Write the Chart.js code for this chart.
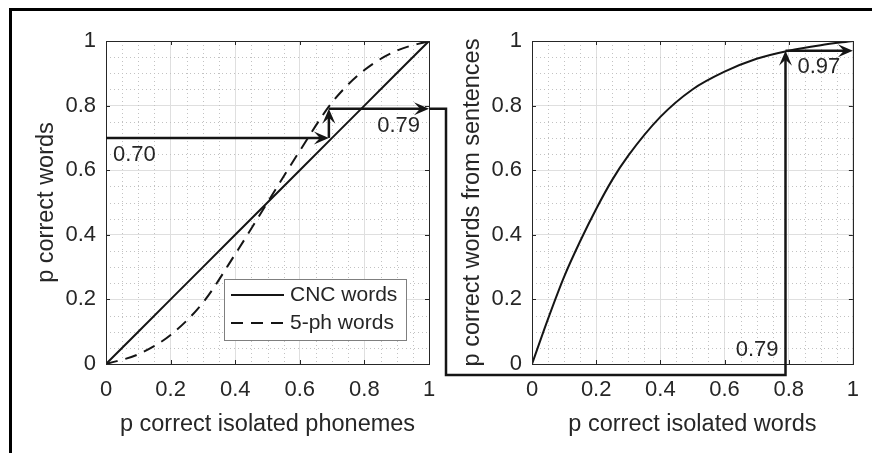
<!DOCTYPE html>
<html lang="en">
<head>
    <meta charset="UTF-8">
    <title>Fonemas, palavras e frases</title>
    <script src="https://cdn.jsdelivr.net/npm/chart.js"></script>
    <style>
        body { margin: 0; background: #fff; width: 872px; height: 453px; overflow: hidden; position: relative; }
        .moldura { position: absolute; left: 9px; top: 8px; width: 900px; height: 500px;
                   border-left: 3px solid #000; border-top: 3px solid #000; }
        canvas { position: absolute; left: 0; top: 0; }
    </style>
</head>
<body>
    <div class="moldura"></div>
    <canvas id="grafico1" width="872" height="453"></canvas>
    <canvas id="grafico2" width="872" height="453"></canvas>

    <script>
        // dados
        const phonemeP  = [0, 0.1, 0.2, 0.3, 0.4, 0.5, 0.6, 0.7, 0.8, 0.9, 1]
        const cncWords  = [0, 0.1, 0.2, 0.3, 0.4, 0.5, 0.6, 0.7, 0.8, 0.9, 1]
        const ph5Words  = [0, 0.03, 0.09, 0.19, 0.34, 0.5, 0.66, 0.81, 0.91, 0.97, 1]
        const wordP     = [0, 0.05, 0.1, 0.15, 0.2, 0.25, 0.3, 0.4, 0.5, 0.6, 0.7, 0.8, 0.9, 1]
        const sentWords = [0, 0.14, 0.27, 0.38, 0.48, 0.57, 0.645, 0.765, 0.85, 0.905, 0.945, 0.97, 0.987, 1]
        const tickVals  = [0, 0.2, 0.4, 0.6, 0.8, 1]
        const seriesNames = ['CNC words', '5-ph words']
        // exemplo das setas
        const exWords = 0.70
        const exPhon  = 0.69
        const ex5ph   = 0.79
        const exSent  = 0.97

        const fonte = '"Liberation Sans", Arial, Helvetica, sans-serif'
        const tinta = '#262626'
        const preto = '#151515'

        const pares = (xs, ys) => xs.map((v, i) => ({x: v, y: ys[i]}))

        const eixos = (tituloX, tituloY) => ({
          x: {
            type: 'linear', min: 0, max: 1,
            afterBuildTicks: s => { s.ticks = tickVals.map(v => ({value: v})) },
            afterFit: s => { s.height = 89 },
            ticks: { color: tinta, padding: 13, maxRotation: 0, autoSkip: false,
                     font: {family: fonte, size: 22}, callback: v => String(v) },
            grid: { color: '#dfdfdf', drawTicks: false },
            border: { color: tinta, width: 1 },
            title: { display: true, text: tituloX, color: tinta,
                     font: {family: fonte, size: 23.5}, padding: {top: 0, bottom: 14} }
          },
          y: {
            type: 'linear', min: 0, max: 1,
            afterBuildTicks: s => { s.ticks = tickVals.map(v => ({value: v})) },
            afterFit: s => { s.width = 94 },
            ticks: { color: tinta, padding: 10, autoSkip: false,
                     font: {family: fonte, size: 22}, callback: v => String(v) },
            grid: { color: '#dfdfdf', drawTicks: false },
            border: { color: tinta, width: 1 },
            title: { display: true, text: tituloY, color: tinta,
                     font: {family: fonte, size: 23.5}, padding: {top: 20, bottom: 0} }
          }
        })

        // grade menor pontilhada, caixa e marcas para dentro
        const moldura = {
          id: 'moldura',
          beforeDatasetsDraw(chart) {
            const {ctx, chartArea: a, scales: {x, y}} = chart
            ctx.save()
            ctx.strokeStyle = '#c2c2c2'
            ctx.lineWidth = 1
            ctx.setLineDash([1, 3])
            for (let i = 1; i < 20; i++) {
              if (i % 4 === 0) continue
              const px = Math.round(x.getPixelForValue(i / 20)) + 0.5
              const py = Math.round(y.getPixelForValue(i / 20)) + 0.5
              ctx.beginPath(); ctx.moveTo(px, a.top); ctx.lineTo(px, a.bottom); ctx.stroke()
              ctx.beginPath(); ctx.moveTo(a.left, py); ctx.lineTo(a.right, py); ctx.stroke()
            }
            ctx.restore()
          },
          afterDatasetsDraw(chart) {
            const {ctx, chartArea: a, scales: {x, y}} = chart
            ctx.save()
            ctx.strokeStyle = tinta
            ctx.lineWidth = 1
            ctx.strokeRect(Math.round(a.left) + 0.5, Math.round(a.top) + 0.5,
                           Math.round(a.right - a.left), Math.round(a.bottom - a.top))
            ctx.beginPath()
            tickVals.forEach(v => {
              const px = Math.round(x.getPixelForValue(v)) + 0.5
              const py = Math.round(y.getPixelForValue(v)) + 0.5
              ctx.moveTo(px, a.bottom); ctx.lineTo(px, a.bottom - 4)
              ctx.moveTo(px, a.top); ctx.lineTo(px, a.top + 4)
              ctx.moveTo(a.left, py); ctx.lineTo(a.left + 4, py)
              ctx.moveTo(a.right, py); ctx.lineTo(a.right - 4, py)
            })
            ctx.stroke()
            ctx.restore()
          }
        }

        const ponta = (ctx, x, y, ang) => {
          ctx.save()
          ctx.translate(x, y)
          ctx.rotate(ang)
          ctx.beginPath()
          ctx.moveTo(0, 0)
          ctx.lineTo(-15, -6.5)
          ctx.lineTo(-9, 0)
          ctx.lineTo(-15, 6.5)
          ctx.closePath()
          ctx.fill()
          ctx.restore()
        }

        const linha = (ctx, pts) => {
          ctx.beginPath()
          ctx.moveTo(pts[0][0], pts[0][1])
          pts.slice(1).forEach(p => ctx.lineTo(p[0], p[1]))
          ctx.stroke()
        }

        const estiloSeta = ctx => {
          ctx.strokeStyle = preto
          ctx.fillStyle = preto
          ctx.lineWidth = 2.5
          ctx.lineJoin = 'miter'
          ctx.setLineDash([])
          ctx.font = '22px ' + fonte
          ctx.textBaseline = 'middle'
        }

        const setasEsq = {
          id: 'setasEsq',
          afterDraw(chart) {
            const {ctx, chartArea: a, scales: {x, y}} = chart
            const x0 = x.getPixelForValue(0), xp = x.getPixelForValue(exPhon), x1 = x.getPixelForValue(1)
            const yw = y.getPixelForValue(exWords), y5 = y.getPixelForValue(ex5ph)
            ctx.save()
            estiloSeta(ctx)
            linha(ctx, [[x0, yw], [xp - 4, yw]]); ponta(ctx, xp, yw, 0)
            linha(ctx, [[xp, yw], [xp, y5 + 4]]); ponta(ctx, xp, y5, -Math.PI / 2)
            linha(ctx, [[xp, y5], [x1 - 4, y5]]); ponta(ctx, x1, y5, 0)
            ctx.fillStyle = tinta
            ctx.textAlign = 'left'
            ctx.fillText(exWords.toFixed(2), x0 + 7, yw + 17)
            ctx.textAlign = 'right'
            ctx.fillText(ex5ph.toFixed(2), x1 - 9, y5 + 17)

            // legenda
            const lw = 182, lh = 61
            const lx = a.right - 23 - lw, ly = a.bottom - 24 - lh
            ctx.fillStyle = '#fff'
            ctx.fillRect(lx, ly, lw, lh)
            ctx.strokeStyle = '#7f7f7f'
            ctx.lineWidth = 1
            ctx.strokeRect(Math.round(lx) + 0.5, Math.round(ly) + 0.5, lw, lh)
            ctx.font = '21px ' + fonte
            ctx.textAlign = 'left'
            chart.data.datasets.forEach((ds, i) => {
              const ry = ly + 16 + i * 28
              ctx.strokeStyle = ds.borderColor
              ctx.lineWidth = ds.borderWidth
              ctx.setLineDash(ds.borderDash || [])
              linha(ctx, [[lx + 7, ry], [lx + 60, ry]])
              ctx.fillStyle = tinta
              ctx.fillText(ds.label, lx + 66, ry)
            })
            ctx.restore()
          }
        }

        const grafico1 = new Chart(document.getElementById('grafico1'), {
          type: 'scatter',
          data: {
            datasets: [{
              label: seriesNames[0],
              data: pares(phonemeP, cncWords),
              showLine: true, borderColor: preto, borderWidth: 2, pointRadius: 0
            }, {
              label: seriesNames[1],
              data: pares(phonemeP, ph5Words),
              showLine: true, borderColor: preto, borderWidth: 2, pointRadius: 0,
              borderDash: [12, 8], cubicInterpolationMode: 'monotone'
            }]
          },
          options: {
            responsive: false, animation: false,
            layout: { padding: {left: 12, top: 41, right: 443, bottom: 0} },
            plugins: { legend: {display: false}, tooltip: {enabled: false} },
            scales: eixos('p correct isolated phonemes', 'p correct words')
          },
          plugins: [moldura, setasEsq]
        })

        // ligacao entre os paineis e setas do painel direito
        const setasDir = {
          id: 'setasDir',
          afterDraw(chart) {
            const {ctx, chartArea: a, scales: {x, y}} = chart
            const xa = grafico1.scales.x, ya = grafico1.scales.y
            const sx = xa.getPixelForValue(1), sy = ya.getPixelForValue(ex5ph)
            const cotoX = grafico1.chartArea.right + 17
            const baixoY = a.bottom + 11
            const xv = x.getPixelForValue(ex5ph), ys = y.getPixelForValue(exSent), x1 = x.getPixelForValue(1)
            ctx.save()
            estiloSeta(ctx)
            linha(ctx, [[sx, sy], [cotoX, sy], [cotoX, baixoY], [xv, baixoY], [xv, ys + 4]])
            ponta(ctx, xv, ys, -Math.PI / 2)
            linha(ctx, [[xv, ys], [x1 - 4, ys]]); ponta(ctx, x1, ys, 0)
            ctx.fillStyle = tinta
            ctx.textAlign = 'right'
            ctx.fillText(ex5ph.toFixed(2), xv - 7, a.bottom - 14)
            ctx.textAlign = 'left'
            ctx.fillText(exSent.toFixed(2), xv + 12, ys + 16)
            ctx.restore()
          }
        }

        const grafico2 = new Chart(document.getElementById('grafico2'), {
          type: 'scatter',
          data: {
            datasets: [{
              label: 'sentences',
              data: pares(wordP, sentWords),
              showLine: true, borderColor: preto, borderWidth: 2, pointRadius: 0,
              cubicInterpolationMode: 'monotone'
            }]
          },
          options: {
            responsive: false, animation: false,
            layout: { padding: {left: 438, top: 41, right: 16, bottom: 0} },
            plugins: { legend: {display: false}, tooltip: {enabled: false} },
            scales: eixos('p correct isolated words', 'p correct words from sentences')
          },
          plugins: [moldura, setasDir]
        })
    </script>
</body>
</html>
